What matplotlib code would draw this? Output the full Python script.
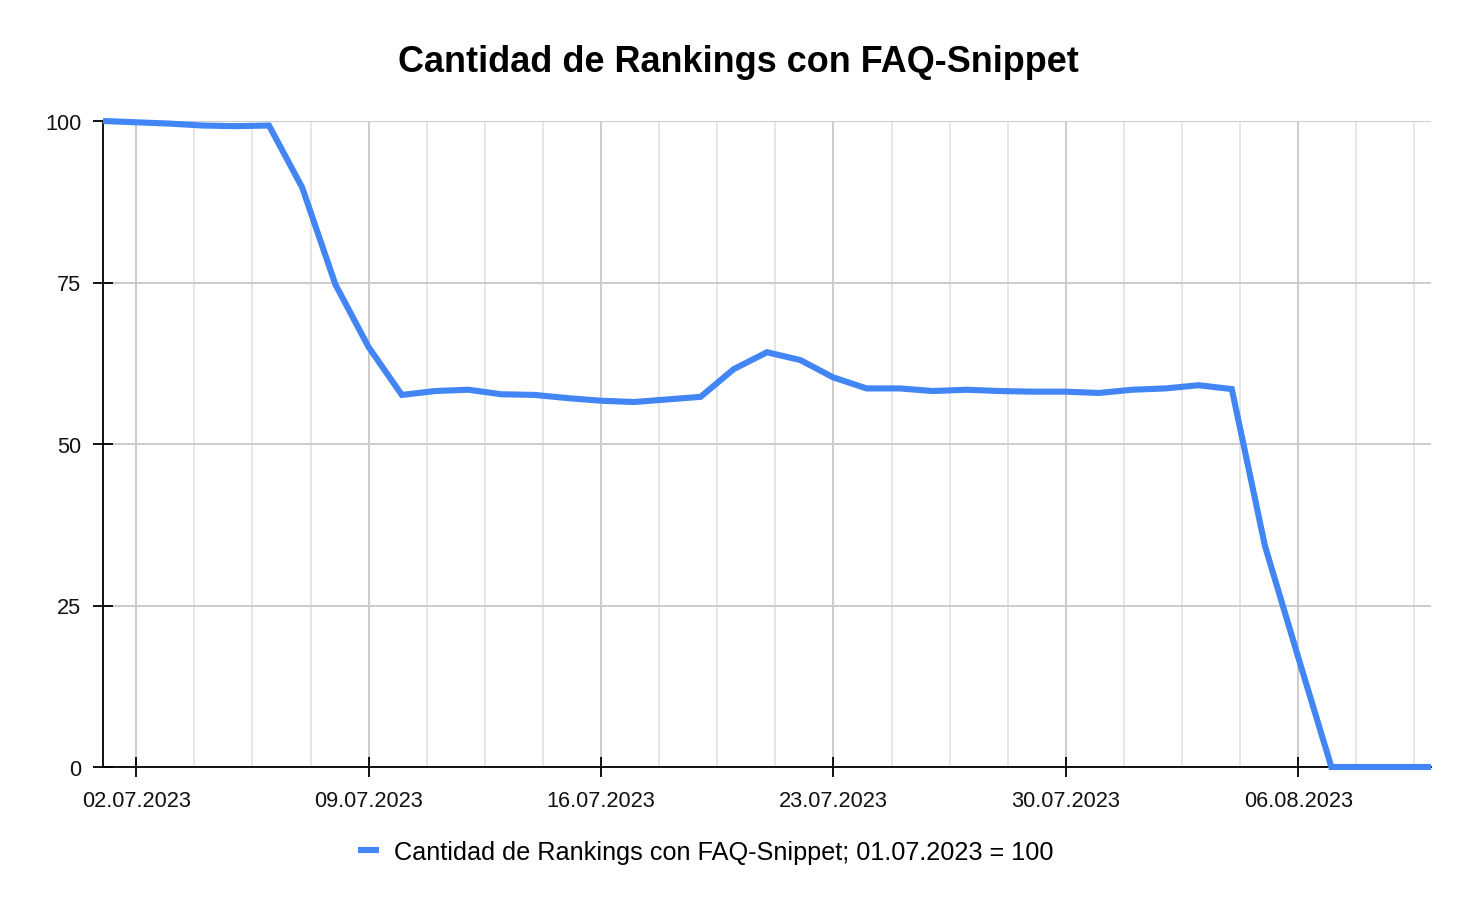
import numpy as np
import pandas as pd
import matplotlib
matplotlib.use("Agg")
import matplotlib.pyplot as plt
import matplotlib.dates as mdates
from matplotlib.ticker import FixedLocator

plt.rcParams['font.family'] = ['Liberation Sans', 'DejaVu Sans']

# datos: índice diario, 01.07.2023 = 100
fechas = pd.date_range("2023-07-01", "2023-08-10", freq="D")
valores = [
    100.0, 99.8, 99.6, 99.3, 99.2, 99.3, 89.7, 74.7, 65.0, 57.6,
    58.2, 58.4, 57.7, 57.6, 57.1, 56.7, 56.5, 56.9, 57.3, 61.6,
    64.2, 63.0, 60.3, 58.6, 58.6, 58.2, 58.4, 58.2, 58.1, 58.1,
    57.9, 58.4, 58.6, 59.1, 58.5, 34.2, 17.0, 0.0, 0.0, 0.0, 0.0,
]
titulo = "Cantidad de Rankings con FAQ-Snippet"
etiqueta = "Cantidad de Rankings con FAQ-Snippet; 01.07.2023 = 100"
yticks = [0, 25, 50, 75, 100]

azul = "#4285F4"

fig = plt.figure(figsize=(14.76, 9.12), dpi=100)
ax = fig.add_axes([103/1476, 1 - 768/912, (1431 - 103)/1476, (768 - 122)/912])

ax.plot(fechas, valores, color=azul, lw=4.4, label=etiqueta,
        solid_joinstyle="miter", solid_capstyle="butt", zorder=3, clip_on=False)

ax.set_xlim(fechas[0], fechas[-1])
ax.set_ylim(0, 100)

# ticks semanales + rejilla menor cada 1.75 días
mayores = pd.date_range("2023-07-02", "2023-08-06", freq="7D")
x_may = mdates.date2num(mayores)
x_min = x_may[0] + np.arange(-1, 25) * 1.75
x_min = x_min[(x_min > mdates.date2num(fechas[0])) & (x_min < mdates.date2num(fechas[-1]))]
ax.xaxis.set_major_locator(FixedLocator(x_may))
ax.xaxis.set_minor_locator(FixedLocator(x_min))
ax.xaxis.set_major_formatter(mdates.DateFormatter("%d.%m.%Y"))
ax.set_yticks(yticks)

ax.grid(True, which="major", color="#cccccc", lw=1.4, zorder=0)
ax.grid(True, which="minor", axis="x", color="#e6e6e6", lw=1.4, zorder=0)
ax.set_axisbelow(True)

for s in ["top", "right"]:
    ax.spines[s].set_visible(False)
for s in ["left", "bottom"]:
    ax.spines[s].set_color("black")
    ax.spines[s].set_linewidth(1.3)

ax.tick_params(axis="both", which="major", direction="inout", length=15,
               width=1.3, color="black", labelsize=15.7, labelcolor="#111111")
ax.tick_params(axis="x", which="major", pad=9)
ax.tick_params(axis="y", which="major", pad=8)
ax.tick_params(axis="x", which="minor", length=0)

fig.text(0.5, 1 - 62/912, titulo, ha="center", va="center",
         fontsize=25.9, fontweight="bold", color="black")

fig.legend(loc="center", bbox_to_anchor=(706/1476, 1 - 853/912), frameon=False,
           fontsize=18.2, handlelength=0.83, handletextpad=0.6)

fig.savefig("out.png", dpi=100)
